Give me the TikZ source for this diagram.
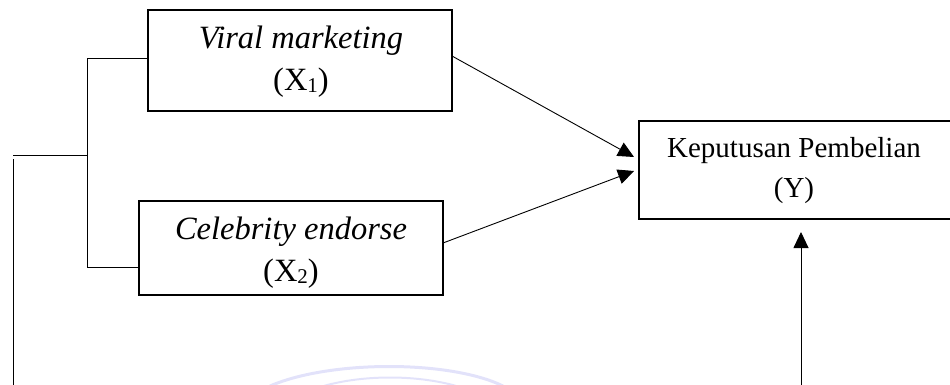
\documentclass[tikz,border=0pt]{standalone}
\usepackage{fontspec}
\setmainfont{Liberation Serif}
\usetikzlibrary{arrows.meta}
\newcommand{\mysub}[1]{\raisebox{-2pt}{\fontsize{21}{21}\selectfont #1}}
\begin{document}
\begin{tikzpicture}[x=1pt,y=-1pt,
  box/.style={draw,line width=1.8pt,inner sep=0pt},
  lbl/.style={align=center,inner sep=0pt,font=\fontsize{32.5}{42}\selectfont},
  lblY/.style={align=center,inner sep=0pt,font=\fontsize{29}{40}\selectfont},
  conn/.style={line width=0.9pt},
  arr/.style={line width=0.9pt,-{Triangle[length=16pt,width=15pt]}},
  wm/.style={draw={rgb,255:red,226;green,226;blue,250},line width=3pt}]
\useasboundingbox (0,0) rectangle (950,385);
% watermark arcs
\draw[wm] (270,386) .. controls (330,360) and (450,360) .. (503,386);
\draw[wm,line width=2pt] (317,388) .. controls (360,374) and (420,374) .. (463,388);
% boxes
\node[box,minimum width=304pt,minimum height=101pt] (x1) at (300,60.5) {};
\node[box,minimum width=304pt,minimum height=94pt] (x2) at (291,248) {};
\node[box,minimum width=330pt,minimum height=98pt] (y) at (804,170) {};
% labels
\node[lbl] (x1t) at (301,62) {\itshape Viral marketing\\(X\mysub{1})};
\node[lbl] (x2t) at (291,253) {\itshape Celebrity endorse\\(X\mysub{2})};
\node[lblY] (yt) at (794,171) {Keputusan Pembelian\\(Y)};
% bracket
\coordinate (b1) at (87,58);
\coordinate (b2) at (87,267);
\coordinate (bm) at (87,155);
\coordinate (bl) at (13,155);
\coordinate (vt) at (13,159);
\coordinate (vb) at (13,386);
\draw[conn] (x1.west |- b1) -- (b1) -- (b2) -- (x2.west |- b2);
\draw[conn] (bm) -- (bl);
\draw[conn] (vt) -- (vb);
% arrows
\coordinate (s1) at (452,56);
\coordinate (t1) at (634,157);
\coordinate (s2) at (443,243);
\coordinate (t2) at (634,171);
\coordinate (s3) at (801,386);
\coordinate (t3) at (801,232);
\draw[arr] (s1) -- (t1);
\draw[arr] (s2) -- (t2);
\draw[arr] (s3) -- (t3);
\end{tikzpicture}
\end{document}
